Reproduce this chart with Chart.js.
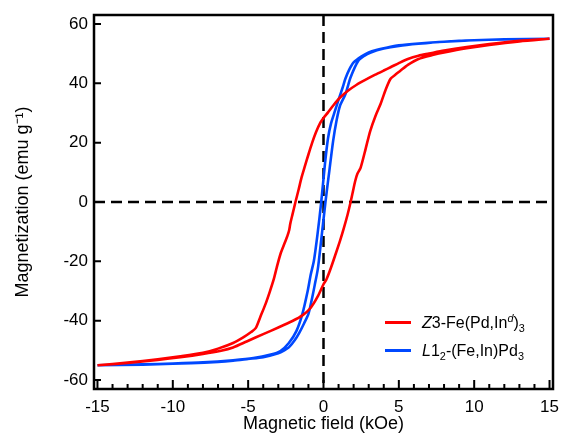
<!DOCTYPE html>
<html><head><meta charset="utf-8">
<script src="https://cdn.jsdelivr.net/npm/chart.js@4/dist/chart.umd.min.js"></script>
<style>
html,body{margin:0;padding:0;background:#fff}
#wrap{position:relative;width:561px;height:434px}
.row{position:absolute;left:385px;height:22px;line-height:22px;font:16px "Liberation Sans",Arial,sans-serif;color:#000;white-space:nowrap}
.sw{display:inline-block;width:26px;height:3px;vertical-align:middle;margin-right:11px;position:relative;top:-1px}
sup,sub{font-size:0.68em;line-height:0}
</style></head><body>
<div id="wrap"><canvas id="c" width="561" height="434"></canvas>
<div class="row" style="top:314px"><span class="sw" style="background:#ff0000"></span><i>Z</i>3-Fe(Pd,In<sup><i>d</i></sup>)<sub>3</sub></div>
<div class="row" style="top:342px"><span class="sw" style="background:#0048ff"></span><i>L</i>1<sub>2</sub>-(Fe,In)Pd<sub>3</sub></div>
</div>
<script>
// ---- data ----
const seriesNames = ['Z3-Fe(Pd,In^d)3', 'L1_2-(Fe,In)Pd3'];

// Z3-Fe(Pd,In^d)3 : descending branch (+15 -> -15)
const redDownX = [15, 13, 11, 9.5, 8, 7, 6.3, 5.6, 5, 4.45, 4, 3.4, 2.8, 2.2, 1.6, 1.1, 0.66, 0.3, 0, -0.2, -0.5, -0.75, -1, -1.25, -1.46, -1.65, -1.86, -2.05, -2.2, -2.28, -2.4, -2.55, -2.86, -3.1, -3.3, -3.55, -3.85, -4.2, -4.5, -4.8, -5.3, -6, -7, -8, -9.5, -11, -13, -15];
const redDownY = [55, 54.3, 53.2, 52.2, 51.0, 50.0, 49.3, 48.2, 46.8, 45.4, 44.3, 42.8, 41.2, 39.5, 37.4, 35.2, 32.6, 30.2, 28.3, 26.8, 23.5, 20, 16, 11.8, 8.2, 4.2, 0, -4, -7.2, -9.5, -11.5, -13.5, -17.6, -22, -26, -30, -34.4, -38.8, -42.5, -43.8, -45.5, -47.5, -49.4, -50.8, -52, -53, -54.1, -55];
// Z3-Fe(Pd,In^d)3 : ascending branch (-15 -> +15)
const redUpX = [-15, -13, -11, -9.5, -8, -6.8, -6, -5.1, -4, -3, -2.06, -1.4, -0.86, -0.4, 0, 0.2, 0.47, 0.8, 1.1, 1.35, 1.6, 1.8, 1.95, 2.1, 2.25, 2.46, 2.8, 3.1, 3.45, 3.8, 4.1, 4.45, 4.8, 5.1, 5.6, 6.3, 7.3, 8, 9.5, 11, 13, 15];
const redUpY = [-55, -54.2, -53.2, -52.3, -51.2, -50.1, -49, -47, -44.5, -42.3, -40.1, -38.2, -35.7, -32, -27.7, -26, -22.5, -17.6, -13, -8.8, -4.2, 0, 3.5, 7, 9.5, 11.5, 18, 23.9, 29, 33.2, 37.5, 41.5, 43, 44.2, 46.2, 48.2, 49.6, 50.4, 51.8, 52.9, 54.1, 55];

// L1_2-(Fe,In)Pd3 : descending branch (+15 -> -15)
const blueDownX = [15, 12, 10, 8, 6.3, 5, 4.45, 3.5, 3, 2.5, 2.0, 1.7, 1.45, 1.26, 1.0, 0.75, 0.5, 0.3, 0.1, -0.15, -0.4, -0.64, -0.85, -1.05, -1.4, -1.8, -2.3, -2.86, -3.5, -4.65, -6, -8, -10, -12, -15];
const blueDownY = [55, 54.8, 54.5, 54.0, 53.4, 52.8, 52.3, 51.2, 50.4, 49.0, 47.0, 44.5, 41.5, 38.4, 34.5, 30.5, 26.5, 21.5, 13, 0, -11, -19.9, -24.5, -30, -37.7, -43.5, -47.5, -50.2, -51.4, -52.6, -53.3, -54, -54.4, -54.7, -55];
// L1_2-(Fe,In)Pd3 : ascending branch (-15 -> +15)
const blueUpX = [-15, -12, -10, -8.8, -7, -6, -5, -4, -3, -2.6, -2.3, -1.9, -1.6, -1.3, -1.0, -0.7, -0.53, -0.4, -0.31, 0.13, 0.4, 0.64, 0.86, 1.1, 1.46, 1.8, 2.3, 2.7, 3.1, 4, 5, 6.3, 8, 10, 12, 15];
const blueUpY = [-55, -54.8, -54.5, -54.3, -53.9, -53.5, -52.9, -52.3, -51, -50, -49, -46.5, -44, -41, -37.7, -31, -26.6, -23.3, -19.9, 0, 11, 20.6, 27.3, 32.5, 36.4, 42, 47.5, 49.2, 50.3, 51.7, 52.6, 53.3, 54, 54.5, 54.8, 55];

const xTickLabels = [-15, -10, -5, 0, 5, 10, 15];
const xMinorTicks = [-14, -13, -12, -11, -9, -8, -7, -6, -4, -3, -2, -1, 1, 2, 3, 4, 6, 7, 8, 9, 11, 12, 13, 14];
const yTickLabels = [-60, -40, -20, 0, 20, 40, 60];

// ---- chart ----
const FONT = '"Liberation Sans", Arial, sans-serif';
const pts = (xs, ys) => xs.map((x, i) => ({x: x, y: ys[i]}));

const framePlugin = {
  id: 'frame',
  beforeDatasetsDraw(chart) {
    const {ctx, chartArea: a, scales: {x, y}} = chart;
    ctx.save();
    ctx.strokeStyle = '#000';
    ctx.lineWidth = 2.5;
    ctx.setLineDash([11, 6]);
    const x0 = x.getPixelForValue(0), y0 = y.getPixelForValue(0);
    ctx.beginPath(); ctx.moveTo(x0, a.top); ctx.lineTo(x0, a.bottom); ctx.stroke();
    ctx.beginPath(); ctx.moveTo(a.left, y0); ctx.lineTo(a.right, y0); ctx.stroke();
    ctx.restore();
  },
  afterDraw(chart) {
    const {ctx, chartArea: a, scales: {x, y}} = chart;
    ctx.save();
    ctx.strokeStyle = '#000';
    ctx.lineWidth = 2;
    ctx.beginPath();
    xTickLabels.forEach(v => { const p = x.getPixelForValue(v); ctx.moveTo(p, a.bottom); ctx.lineTo(p, a.bottom - 9); });
    xMinorTicks.forEach(v => { const p = x.getPixelForValue(v); ctx.moveTo(p, a.bottom); ctx.lineTo(p, a.bottom - 5); });
    yTickLabels.forEach(v => { const p = y.getPixelForValue(v); ctx.moveTo(a.left, p); ctx.lineTo(a.left + 7, p); });
    ctx.stroke();
    ctx.lineWidth = 2.5;
    ctx.strokeRect(a.left, a.top, a.right - a.left, a.bottom - a.top);
    ctx.restore();
  }
};

new Chart(document.getElementById('c'), {
  type: 'scatter',
  data: {
    datasets: [
      {label: seriesNames[0], data: pts(redDownX, redDownY).concat(pts(redUpX, redUpY)), borderColor: '#ff0000', backgroundColor: '#ff0000'},
      {label: seriesNames[1], data: pts(blueDownX, blueDownY).concat(pts(blueUpX, blueUpY)), borderColor: '#0048ff', backgroundColor: '#0048ff'}
    ]
  },
  options: {
    responsive: false,
    animation: false,
    devicePixelRatio: 1,
    showLine: true,
    elements: {point: {radius: 0, hoverRadius: 0}, line: {borderWidth: 2.6, tension: 0.25, fill: false}},
    layout: {padding: {top: 15, right: 8, left: 0, bottom: 0}},
    plugins: {legend: {display: false}, tooltip: {enabled: false}},
    scales: {
      x: {
        type: 'linear', min: -15.23, max: 15.23,
        grid: {display: false, drawTicks: false},
        border: {display: false},
        afterBuildTicks: s => { s.ticks = xTickLabels.map(v => ({value: v})); },
        afterFit: s => { s.height = 45; s.paddingLeft = 0; s.paddingRight = 0; },
        ticks: {padding: 8, color: '#000', font: {family: FONT, size: 17}, callback: v => String(v), maxRotation: 0, autoSkip: false},
        title: {display: true, text: 'Magnetic field (kOe)', color: '#000', font: {family: FONT, size: 18, lineHeight: 1.1}, padding: {top: 0, bottom: 0}}
      },
      y: {
        type: 'linear', min: -63, max: 63,
        grid: {display: false, drawTicks: false},
        border: {display: false},
        afterBuildTicks: s => { s.ticks = yTickLabels.map(v => ({value: v})); },
        afterFit: s => { s.width = 94; s.paddingTop = 0; s.paddingBottom = 0; },
        ticks: {padding: 6, color: '#000', font: {family: FONT, size: 17}, callback: v => String(v), autoSkip: false},
        title: {display: true, text: 'Magnetization (emu g\u207B\u00B9)', color: '#000', font: {family: FONT, size: 18, lineHeight: 1.2}, padding: {top: 12, bottom: 0}}
      }
    }
  },
  plugins: [framePlugin]
});
</script>
</body></html>
